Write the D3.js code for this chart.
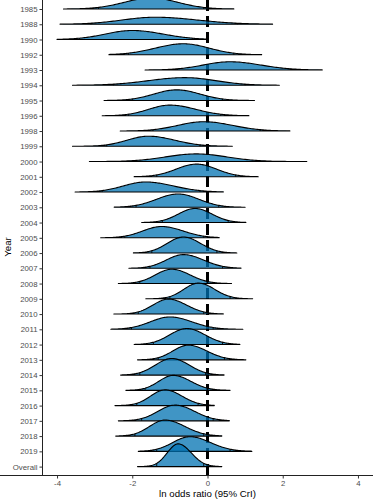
<!DOCTYPE html>
<html>
<head>
<meta charset="utf-8">
<script src="https://cdn.jsdelivr.net/npm/d3@7"></script>
<style>
  body { margin: 0; background: #fff; }
  text { font-family: "Liberation Sans", Arial, sans-serif; }
</style>
</head>
<body>
<script>
// rows, top to bottom
const years = ["1985","1988","1990","1992","1993","1994","1995","1996","1998","1999",
  "2000","2001","2002","2003","2004","2005","2006","2007","2008","2009","2010",
  "2011","2012","2013","2014","2015","2016","2017","2018","2019","Overall"];
// ln OR
const tailMin = [-3.83,-3.92,-4.0,-2.62,-1.66,-3.59,-2.75,-2.80,-2.32,-3.59,
  -3.14,-1.95,-3.52,-2.48,-1.75,-2.84,-1.97,-2.09,-2.37,-1.64,-2.49,
  -2.57,-1.95,-1.86,-2.31,-2.17,-2.46,-2.37,-2.44,-1.84,-1.86];
const crLow = [-2.9,-3.1,-3.4,-2.1,-0.8,-2.5,-2.0,-2.1,-1.45,-2.68,
  -1.9,-1.35,-2.8,-1.9,-1.2,-2.2,-1.48,-1.53,-1.8,-1.0,-1.84,
  -2.02,-1.44,-1.31,-1.8,-1.66,-1.88,-1.75,-1.93,-1.35,-1.35];
const peakAt = [-1.5,-1.4,-2.0,-0.64,0.6,-0.6,-0.82,-1.0,-0.1,-1.57,
  -0.3,-0.29,-1.65,-0.78,-0.33,-1.22,-0.64,-0.64,-0.95,-0.24,-1.04,
  -1.0,-0.55,-0.51,-0.95,-0.91,-1.13,-0.86,-1.13,-0.47,-0.78];
const crHigh = [-0.1,0.8,-0.4,0.7,2.2,1.0,0.4,0.35,1.4,-0.2,
  1.3,0.75,-0.2,0.3,0.55,-0.1,0.25,0.4,0.0,0.6,-0.1,
  0.15,0.4,0.45,-0.05,0.0,-0.25,0.15,-0.1,0.6,-0.1];
const tailMax = [0.70,1.73,-0.02,1.44,3.05,1.91,1.25,1.10,2.19,0.66,
  2.64,1.35,0.42,1.0,1.02,0.31,0.78,0.89,0.64,1.2,0.42,
  0.94,0.86,1.02,0.44,0.6,0.18,0.58,0.38,1.18,0.38];
// peak height of each density, in row units
const peakHeight = [0.72,0.46,0.59,0.72,0.54,0.50,0.70,0.70,0.61,0.66,
  0.50,0.83,0.66,0.87,0.92,0.74,1.05,0.90,0.94,1.03,0.98,
  0.81,1.05,0.96,1.09,0.98,1.03,1.03,1.05,0.96,1.49];
const xTicks = [-4,-2,0,2,4];

const w = 373, h = 500;
const svg = d3.select("body").append("svg")
  .attr("width", w).attr("height", h);

const x = d3.scaleLinear().domain([-4.4, 4.4]).range([42, 373]);
const y = d3.scalePoint().domain(years).range([9, 466.6]);
const step = y.step();
const hs = d3.scaleLinear().domain([0, 1]).range([0, step]);

const rows = years.map((yr, i) => ({
  year: yr, min: tailMin[i], lo: crLow[i], mode: peakAt[i],
  hi: crHigh[i], max: tailMax[i], peak: peakHeight[i]
}));

function dens(r, v) {
  const s = v < r.mode ? (r.mode - r.lo) / 1.96 : (r.hi - r.mode) / 1.96;
  return r.peak * Math.exp(-0.5 * Math.pow((v - r.mode) / s, 2));
}

// reference line at 0, under the ridges
svg.append("line")
  .attr("x1", x(0)).attr("x2", x(0))
  .attr("y1", 0).attr("y2", 475)
  .attr("stroke", "#000").attr("stroke-width", 3)
  .attr("stroke-dasharray", "11,5");

const g = svg.append("g");
rows.forEach(r => {
  const base = y(r.year);
  const n = 120;
  const pts = d3.range(n + 1).map(k => r.min + (r.max - r.min) * k / n);
  const area = d3.area()
    .x(v => x(v))
    .y0(base)
    .y1(v => base - hs(dens(r, v)));
  g.append("path")
    .attr("d", area(pts) )
    .attr("fill", "#0072B2").attr("fill-opacity", 0.75)
    .attr("stroke", "#000").attr("stroke-width", 1.1)
    .attr("stroke-linejoin", "round");
  [r.lo, r.hi].forEach(q => {
    g.append("line")
      .attr("x1", x(q)).attr("x2", x(q))
      .attr("y1", base).attr("y2", base - hs(dens(r, q)))
      .attr("stroke", "#000").attr("stroke-width", 0.9);
  });
});

// axes
const xAxis = svg.append("g")
  .attr("transform", "translate(0,475.5)")
  .call(d3.axisBottom(x).tickValues(xTicks).tickSize(3).tickSizeOuter(0)
    .tickFormat(d => d.toString()));
const yAxis = svg.append("g")
  .attr("transform", "translate(42.5,0)")
  .call(d3.axisLeft(y).tickSize(3).tickSizeOuter(0));
yAxis.select(".domain").attr("d", "M0,0V476");
xAxis.select(".domain").attr("d", "M-0.5,0H373");

[xAxis, yAxis].forEach(a => {
  a.select(".domain").attr("stroke", "#222").attr("stroke-width", 1);
  a.selectAll(".tick line").attr("stroke", "#333");
  a.selectAll(".tick text").attr("fill", "#4d4d4d").style("font-size", "7.8px");
});
xAxis.selectAll(".tick text").attr("dy", "0.71em").attr("y", 5);
yAxis.selectAll(".tick text").attr("x", -5);

svg.append("text")
  .attr("x", 207.5).attr("y", 496.5)
  .attr("text-anchor", "middle")
  .style("font-size", "9.7px")
  .text("ln odds ratio (95% CrI)");

svg.append("text")
  .attr("transform", "translate(11,247) rotate(-90)")
  .attr("text-anchor", "middle")
  .style("font-size", "9.7px")
  .text("Year");
</script>
</body>
</html>
